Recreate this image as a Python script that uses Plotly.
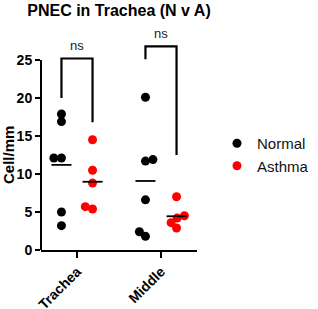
import plotly.graph_objects as go

# ---- data ----
categories = ["Trachea", "Middle"]
series_names = ["Normal", "Asthma"]
normal_trachea = [3.2, 5.0, 12.1, 12.1, 16.9, 17.9]
normal_middle = [1.8, 2.4, 6.6, 11.7, 11.9, 20.1]
asthma_trachea = [5.4, 5.7, 8.8, 10.5, 14.5]
asthma_middle = [2.9, 3.6, 4.2, 4.5, 7.0]
y_tick_values = [0, 5, 10, 15, 20, 25]
y_title = "Cell/mm"
sig_labels = ["ns", "ns"]
bracket_left_end = [20.0, 25.1]
bracket_right_end = [16.8, 12.5]
bracket_top = [25.2, 26.8]

# ---- styling / layout constants ----
FONT = "Liberation Sans, Arial, sans-serif"
colors = {"Normal": "black", "Asthma": "#ff0000"}
group_offset = {"Normal": -0.185, "Asthma": 0.185}
W, H = 318, 309
ML, MR, MT, MB = 41, 121, 41, 59
XR = [-0.4286, 1.4286]
YR = [0, 27.5]
PW = W - ML - MR
PH = H - MT - MB
px_x = PW / (XR[1] - XR[0])
px_y = PH / (YR[1] - YR[0])
DIAM = 7.6
MEAN_HALF = 10 / px_x


def swarm(values):
    """simple beeswarm offsets (in axis units) so markers do not sit on top of each other"""
    order = sorted(range(len(values)), key=lambda i: values[i])
    placed = []
    offs = [0.0] * len(values)
    side = -1
    for i in order:
        y = values[i] * px_y
        cands = [0.0]
        for (px, py) in placed:
            dy = abs(y - py)
            if dy < DIAM:
                dx = (DIAM ** 2 - dy ** 2) ** 0.5
                cands += [px + dx, px - dx]
        valid = [c for c in cands
                 if all((c - px) ** 2 + (y - py) ** 2 >= DIAM ** 2 - 1e-6 for px, py in placed)]
        best_abs = min(abs(c) for c in valid)
        best = [c for c in valid if abs(abs(c) - best_abs) < 1e-6]
        if len(best) > 1:
            pick = min(best) if side < 0 else max(best)
            side = -side
        else:
            pick = best[0]
            if pick != 0:
                side = -side
        placed.append((pick, y))
        offs[i] = pick / px_x
    return offs


data = {
    "Normal": [normal_trachea, normal_middle],
    "Asthma": [asthma_trachea, asthma_middle],
}

fig = go.Figure()
for name in series_names:
    xs, ys = [], []
    for ci, vals in enumerate(data[name]):
        offs = swarm(vals)
        for v, o in zip(vals, offs):
            xs.append(ci + group_offset[name] + o)
            ys.append(v)
    fig.add_trace(go.Scatter(
        x=xs, y=ys, mode="markers", name=name,
        marker=dict(color=colors[name], size=9, line=dict(width=0)),
        cliponaxis=False,
    ))

# mean lines
for name in series_names:
    for ci, vals in enumerate(data[name]):
        m = sum(vals) / len(vals)
        c = ci + group_offset[name]
        fig.add_trace(go.Scatter(
            x=[c - MEAN_HALF, c + MEAN_HALF], y=[m, m], mode="lines",
            line=dict(color="black", width=1.8), showlegend=False, hoverinfo="skip",
        ))

# significance brackets
for ci in range(len(categories)):
    xl = ci + group_offset["Normal"]
    xr = ci + group_offset["Asthma"]
    fig.add_trace(go.Scatter(
        x=[xl, xl, xr, xr],
        y=[bracket_left_end[ci], bracket_top[ci], bracket_top[ci], bracket_right_end[ci]],
        mode="lines", line=dict(color="black", width=2.2),
        showlegend=False, hoverinfo="skip",
    ))
    fig.add_annotation(
        x=ci, y=bracket_top[ci], text=sig_labels[ci], showarrow=False,
        yanchor="bottom", yshift=3,
        font=dict(family=FONT, size=13, color="#222"),
    )

# y axis line only from 0 to 25
fig.add_shape(type="line", xref="paper", yref="y", x0=0, x1=0,
              y0=y_tick_values[0], y1=y_tick_values[-1],
              line=dict(color="black", width=2))

# y axis title centred on the drawn axis line
fig.add_annotation(
    xref="paper", yref="y", x=-(ML - 8) / PW, xanchor="center",
    y=(y_tick_values[0] + y_tick_values[-1]) / 2, yanchor="middle",
    text=y_title, textangle=-90, showarrow=False,
    font=dict(family=FONT, size=15, color="black", weight="bold"),
)

fig.update_layout(
    width=W, height=H,
    margin=dict(l=ML, r=MR, t=MT, b=MB, pad=0, autoexpand=False),
    plot_bgcolor="white", paper_bgcolor="white",
    title=dict(text="PNEC in Trachea (N v A)", x=0.5, xref="paper", xanchor="center",
               y=1 - 10 / H, yref="container", yanchor="middle",
               font=dict(family=FONT, size=16, color="black", weight="bold")),
    showlegend=True,
    legend=dict(x=(237 - ML - 20) / PW, xanchor="left",
                y=(H - MB - 127) / PH, yanchor="top",
                font=dict(family=FONT, size=15, color="#111"),
                bgcolor="rgba(0,0,0,0)", itemsizing="trace"),
    xaxis=dict(range=XR, showgrid=False, zeroline=False, showline=True, automargin=False,
               linecolor="black", linewidth=2, ticks="outside", ticklen=6,
               tickwidth=2, tickcolor="black",
               tickvals=list(range(len(categories))), ticktext=categories,
               tickangle=-45,
               tickfont=dict(family=FONT, size=14, color="black", weight="bold")),
    yaxis=dict(range=YR, showgrid=False, zeroline=False, showline=False, automargin=False,
               ticks="outside", ticklen=5, tickwidth=2, tickcolor="black",
               tickvals=y_tick_values,
               tickfont=dict(family=FONT, size=14, color="black", weight="bold")),
)

fig.write_html("out.html")
